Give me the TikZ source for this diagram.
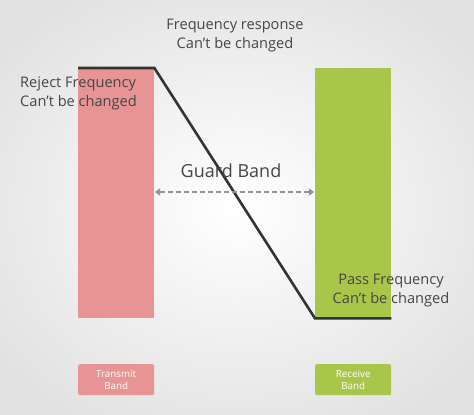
\documentclass[tikz,border=0pt]{standalone}
\usepackage{fontspec}
\setmainfont{Open Sans}
\usetikzlibrary{arrows.meta,shapes.geometric}
\definecolor{pinkband}{HTML}{E89494}
\definecolor{greenband}{HTML}{A8C64A}
\definecolor{txt}{HTML}{454545}
\definecolor{bgout}{HTML}{E2E2E2}
\tikzset{
  x=1pt,y=-1pt,
  band/.style={draw=none,minimum width=76pt,minimum height=250pt,anchor=north west,inner sep=0pt},
  tag/.style={draw=none,rounded corners=2pt,minimum width=76pt,minimum height=31pt,anchor=north west,inner sep=0pt,text=white,font=\fontsize{9.8}{12}\selectfont,align=center},
  lbl/.style={text=txt,font=\fontsize{14.6}{19}\selectfont,align=center,inner sep=0pt},
  resp/.style={draw=black!80,line width=2.6pt},
  guard/.style={draw=gray!85,dashed,dash pattern=on 5pt off 3pt,line width=1.6pt,{Triangle[length=5pt,width=7pt]}-{Triangle[length=5pt,width=7pt]}}
}
\begin{document}
\begin{tikzpicture}
\useasboundingbox (0,0) rectangle (474,415);
\shade[inner color=white,outer color=bgout] (-60,-40) rectangle (534,455);
\node[band,fill=pinkband] (tx) at (78,68) {};
\node[band,fill=greenband] (rx) at (315,68) {};
\draw[resp] (tx.north west) -- (tx.north east) -- (rx.south west) -- (rx.south east);
\node[lbl] (fr) at (235,36) {Frequency response\\Can’t be changed};
\node[lbl,align=left,anchor=west] (rj) at (20,93) {Reject Frequency\\Can’t be changed};
\node[lbl,anchor=center] (pf) at (391,291) {Pass Frequency\\Can’t be changed};
\node[text=txt,font=\fontsize{18}{22}\selectfont,inner sep=0pt] (gb) at (231,171) {Guard Band};
\coordinate (gl) at (155,192);
\coordinate (gr) at (314,192);
\draw[guard] (gl) -- (gr);
\node[tag,fill=pinkband] (tt) at (78,364) {Transmit\\Band};
\node[tag,fill=greenband] (rt) at (315,364) {Receive\\Band};
\end{tikzpicture}
\end{document}
